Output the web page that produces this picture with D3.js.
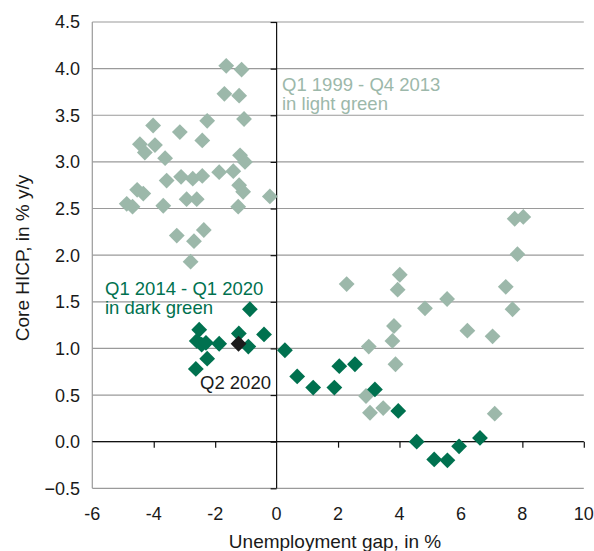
<!DOCTYPE html>
<html><head><meta charset="utf-8">
<script src="https://cdn.jsdelivr.net/npm/d3@7"></script>
<style>
html,body{margin:0;padding:0;background:#fff;}
svg{display:block;font-family:"Liberation Sans",Arial,Helvetica,sans-serif;}
</style></head>
<body>
<svg id="c" width="594" height="551"></svg>
<script>
// Q1 1999 - Q4 2013 (light green)
const lightX = [-1.64,-1.14,-1.70,-1.22,-1.06,-2.26,-4.02,-3.15,-2.42,-4.45,-3.96,-4.29,-3.63,-1.19,-1.03,
  -3.58,-3.11,-2.73,-2.42,-1.87,-1.41,-1.22,-1.09,-4.54,-4.34,-4.88,-4.69,-3.69,-2.93,-2.60,-1.25,-0.22,
  -3.25,-2.37,-2.69,-2.80,
  2.28,4.01,3.94,4.83,3.82,3.00,3.77,3.87,2.91,3.04,3.47,7.75,8.03,7.84,7.46,7.68,5.55,6.21,7.03,7.10];
const lightY = [4.03,3.99,3.73,3.71,3.46,3.44,3.39,3.32,3.23,3.19,3.18,3.10,3.04,3.07,3.00,
  2.80,2.84,2.82,2.85,2.89,2.90,2.75,2.68,2.70,2.66,2.55,2.52,2.53,2.60,2.60,2.52,2.63,
  2.21,2.27,2.15,1.93,
  1.69,1.79,1.63,1.43,1.24,1.02,1.08,0.83,0.49,0.31,0.36,2.39,2.41,2.01,1.66,1.42,1.53,1.19,1.13,0.30];
// Q1 2014 - Q1 2020 (dark green)
const darkX = [-0.87,-2.52,-1.23,-0.41,-2.60,-2.44,-2.30,-1.87,-2.26,-2.63,-0.92,
  0.27,0.67,1.19,1.88,2.04,2.55,3.20,3.96,4.56,5.13,5.56,5.94,6.62];
const darkY = [1.42,1.20,1.16,1.15,1.08,1.04,1.06,1.05,0.89,0.78,1.02,
  0.98,0.70,0.58,0.58,0.81,0.83,0.56,0.33,0.00,-0.19,-0.20,-0.05,0.04];
// Q2 2020
const q2X = [-1.24];
const q2Y = [1.05];

const xTicks = [-6,-4,-2,0,2,4,6,8,10];
const yTicks = [-0.5,0,0.5,1,1.5,2,2.5,3,3.5,4,4.5];

const svg = d3.select("#c");
const L = 92.3, R = 583.8, T = 22, B = 488.3;
const x = d3.scaleLinear().domain([-6,10]).range([L,R]);
const y = d3.scaleLinear().domain([-0.5,4.5]).range([B,T]);

// gridlines
svg.append("g").selectAll("line").data(yTicks).join("line")
  .attr("x1",L).attr("x2",R).attr("y1",d=>y(d)).attr("y2",d=>y(d))
  .attr("stroke","#9a9a9a").attr("stroke-width",1.2);
// left border
svg.append("line").attr("x1",L).attr("x2",L).attr("y1",T).attr("y2",B)
  .attr("stroke","#9a9a9a").attr("stroke-width",1.2);

// x axis at y=0
const xAxis = d3.axisBottom(x).tickValues(xTicks.filter(d=>d!==-6 && d!==0)).tickSize(6).tickFormat("");
const gx = svg.append("g").attr("transform",`translate(0,${y(0)})`).call(xAxis);
gx.select(".domain").attr("d",`M${L},0H${R}`).attr("stroke","#111").attr("stroke-width",1.2);
gx.selectAll(".tick line").attr("stroke","#111").attr("stroke-width",1.2);

// y axis at x=0
const yAxis = d3.axisLeft(y).tickValues(yTicks).tickSize(6).tickFormat("");
const gy = svg.append("g").attr("transform",`translate(${x(0)},0)`).call(yAxis);
gy.select(".domain").attr("d",`M0,${T}V${B}`).attr("stroke","#111").attr("stroke-width",1.2);
gy.selectAll(".tick line").attr("stroke","#111").attr("stroke-width",1.2);

// tick labels
svg.append("g").selectAll("text").data(yTicks).join("text")
  .attr("x",80).attr("y",d=>y(d)).attr("dy","0.36em").attr("text-anchor","end")
  .attr("font-size",18).attr("fill","#1a1a1a").text(d=>d3.format(".1f")(d));
svg.append("g").selectAll("text").data(xTicks).join("text")
  .attr("x",d=>x(d)).attr("y",520).attr("text-anchor","middle")
  .attr("font-size",18).attr("fill","#1a1a1a").text(d=>d<0?"-"+Math.abs(d):d);

// axis titles
svg.append("text").attr("x",335).attr("y",548).attr("text-anchor","middle")
  .attr("font-size",19).attr("fill","#1a1a1a").text("Unemployment gap, in %");
svg.append("text").attr("transform","translate(29,258) rotate(-90)").attr("text-anchor","middle")
  .attr("font-size",19).attr("fill","#1a1a1a").text("Core HICP, in % y/y");

// markers
const sym = d3.symbol().type(d3.symbolSquare).size(125);
function pts(xs,ys,color){
  svg.append("g").selectAll("path").data(xs.map((v,i)=>[v,ys[i]])).join("path")
    .attr("d",sym).attr("fill",color)
    .attr("transform",d=>`translate(${x(d[0])},${y(d[1])}) rotate(45)`);
}
pts(lightX,lightY,"#9cb8aa");
pts(darkX,darkY,"#00714f");
pts(q2X,q2Y,"#1c1c1c");

// annotations
const a1 = svg.append("text").attr("font-size",18.5).attr("fill","#9cb8aa");
a1.append("tspan").attr("x",282).attr("y",91).text("Q1 1999 - Q4 2013");
a1.append("tspan").attr("x",282).attr("y",110).text("in light green");
const a2 = svg.append("text").attr("font-size",18.5).attr("fill","#00714f");
a2.append("tspan").attr("x",105).attr("y",295).text("Q1 2014 - Q1 2020");
a2.append("tspan").attr("x",105).attr("y",314).text("in dark green");
svg.append("text").attr("x",200).attr("y",389).attr("font-size",18.5).attr("fill","#1a1a1a").text("Q2 2020");
</script>
</body></html>
